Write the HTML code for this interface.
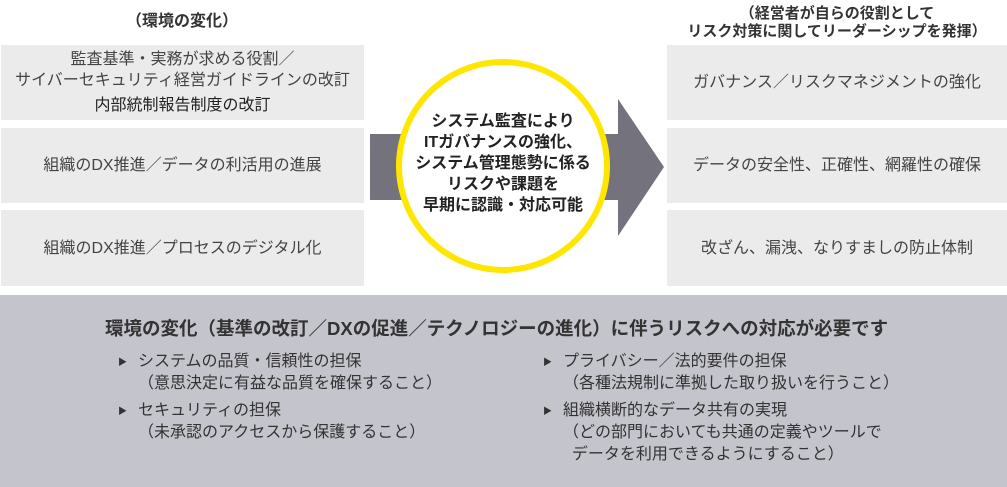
<!DOCTYPE html>
<html><head><meta charset="utf-8"><style>
*{margin:0;padding:0;box-sizing:border-box}
body{width:1007px;height:487px;background:#fff;position:relative;overflow:hidden;font-family:"Liberation Sans","Noto Sans CJK JP",sans-serif;color:#333}
.a{position:absolute}
.box{position:absolute;background:#ebebeb;display:flex;flex-direction:column;align-items:center;justify-content:center;font-size:16px;color:#444;text-align:center;line-height:21px}
.h{position:absolute;font-weight:bold;font-size:15px;text-align:center;color:#333;line-height:18px}
.t{position:absolute;font-size:16px;color:#333;white-space:nowrap;line-height:22px}
.tri{position:absolute;font-size:9px;color:#333}
</style></head><body>
<div class="h" style="left:0;width:364px;top:13px;font-size:16px">（環境の変化）</div>
<div class="h" style="left:667px;width:340px;top:5px">（経営者が自らの役割として<br>リスク対策に関してリーダーシップを発揮）</div>

<div class="box" style="left:1px;top:45px;width:363px;height:75px"><div>監査基準・実務が求める役割／<br>サイバーセキュリティ経営ガイドラインの改訂</div><div style="margin-top:4px;color:#222">内部統制報告制度の改訂</div></div>
<div class="box" style="left:1px;top:128px;width:363px;height:75px">組織のDX推進／データの利活用の進展</div>
<div class="box" style="left:1px;top:210px;width:363px;height:76px">組織のDX推進／プロセスのデジタル化</div>

<div class="box" style="left:667px;top:45px;width:340px;height:75px">ガバナンス／リスクマネジメントの強化</div>
<div class="box" style="left:667px;top:128px;width:340px;height:75px">データの安全性、正確性、網羅性の確保</div>
<div class="box" style="left:667px;top:210px;width:340px;height:76px">改ざん、漏洩、なりすましの防止体制</div>

<svg class="a" style="left:0;top:0" width="1007" height="300">
<polygon points="370,134 618,134 618,99 664,167 618,236 618,200 370,200" fill="#74737d"/>
<circle cx="503" cy="166" r="104" fill="#fff" stroke="#ffe600" stroke-width="6"/>
</svg>
<div class="h" style="left:393px;width:220px;top:111px;font-size:16px;line-height:21px;color:#222">システム監査により<br>ITガバナンスの強化、<br>システム管理態勢に係る<br>リスクや課題を<br>早期に認識・対応可能</div>

<div class="a" style="left:0;top:295px;width:1007px;height:192px;background:#c4c4cc"></div>
<div class="a" style="left:105px;top:315px;font-size:18.5px;font-weight:bold;color:#333;white-space:nowrap">環境の変化（基準の改訂／DXの促進／テクノロジーの進化）に伴うリスクへの対応が必要です</div>

<div class="tri" style="left:118px;top:355px">▶</div>
<div class="t" style="left:138px;top:351px">システムの品質・信頼性の担保<br>（意思決定に有益な品質を確保すること）</div>
<div class="tri" style="left:118px;top:404px">▶</div>
<div class="t" style="left:138px;top:400px">セキュリティの担保<br>（未承認のアクセスから保護すること）</div>
<div class="tri" style="left:543px;top:355px">▶</div>
<div class="t" style="left:563px;top:351px">プライバシー／法的要件の担保<br>（各種法規制に準拠した取り扱いを行うこと）</div>
<div class="tri" style="left:543px;top:404px">▶</div>
<div class="t" style="left:563px;top:400px">組織横断的なデータ共有の実現<br>（どの部門においても共通の定義やツールで<br>&nbsp;&nbsp;データを利用できるようにすること）</div>
</body></html>
